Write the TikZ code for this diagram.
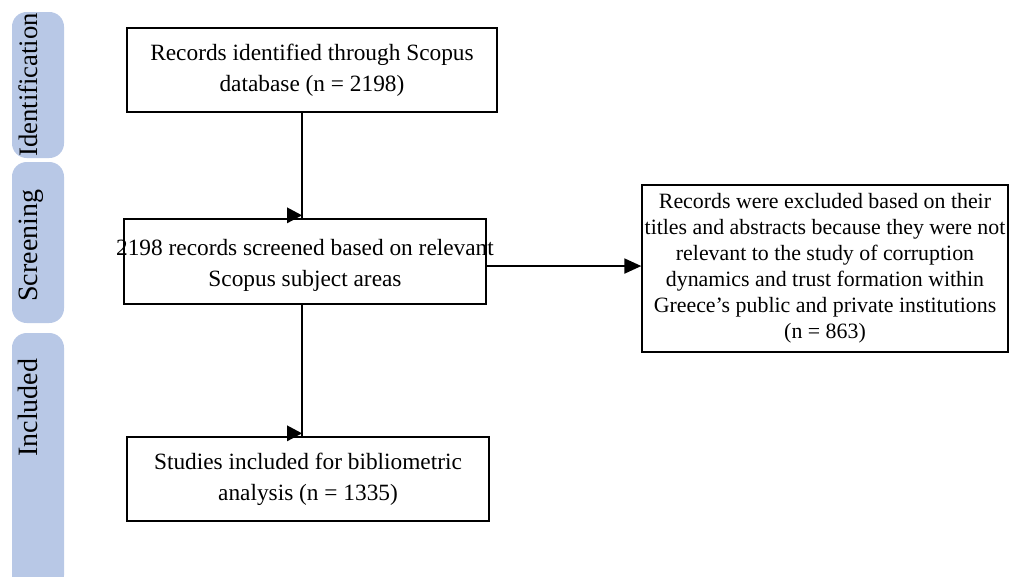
\documentclass[tikz,border=0pt]{standalone}
\usepackage{fontspec}
\setmainfont{Liberation Serif}
\usetikzlibrary{arrows.meta}
\definecolor{barblue}{HTML}{B8C8E6}
\begin{document}
\begin{tikzpicture}[x=0.75pt,y=-0.75pt,
  box/.style={draw=black, line width=1pt, rectangle, inner sep=0pt, align=center,
    font=\fontsize{17.5}{23.25}\selectfont},
  smallbox/.style={box, font=\fontsize{16.4}{19.5}\selectfont},
  bartxt/.style={rotate=90, anchor=base west, inner sep=0pt,
    font=\fontsize{21}{25}\selectfont},
  bar/.style={fill=barblue, draw=none, rounded corners=11pt, inner sep=0pt, rectangle},
  conn/.style={line width=1.5pt, draw=black},
  tip/.style={fill=black}]
\useasboundingbox (0,0) rectangle (1009,576);
% stage bars
\node[bar, minimum width=39pt, minimum height=109.5pt] (idbar) at (38,85) {};
\node[bar, minimum width=39pt, minimum height=120.75pt] (scbar) at (38,242.5) {};
\node[bar, minimum width=39pt, minimum height=192.75pt] (inbar) at (38,461.5) {};
\node[bartxt, font=\fontsize{20}{24}\selectfont] (idtxt) at (37,157) {Identification};
\node[bartxt] (sctxt) at (37,302) {Screening};
\node[bartxt] (intxt) at (37,457) {Included};
% boxes
\node[box, minimum width=277.5pt, minimum height=63pt] (b1) at (312,70)
  {Records identified through Scopus\\database (n = 2198)};
\node[box, minimum width=271.5pt, minimum height=63.75pt,
  label={[box, draw=none, yshift=-3pt]center:{2198 records screened based on relevant\\Scopus subject areas}}] (b2) at (305,261.5) {};
\node[smallbox, minimum width=274.5pt, minimum height=125.25pt] (b3) at (825,268.5)
  {Records were excluded based on their\\titles and abstracts because they were not\\relevant to the study of corruption\\dynamics and trust formation within\\Greece’s public and private institutions\\(n = 863)};
\node[box, minimum width=271.5pt, minimum height=63pt] (b4) at (308,479)
  {Studies included for bibliometric\\analysis (n = 1335)};
% connectors
\coordinate (vx) at (302,0);
\draw[conn] (b1.south -| vx) -- (b2.north -| vx);
\fill[tip] (b2.north -| vx) ++(0,-3) -- ++(-15,-8) -- ++(0,16) -- cycle;
\draw[conn] (b2.south -| vx) -- (b4.north -| vx);
\fill[tip] (b4.north -| vx) ++(0,-3) -- ++(-15,-8) -- ++(0,16) -- cycle;
\coordinate (h1) at ([yshift=-3.4pt]b2.east);
\draw[conn, -{Triangle[length=12.75pt,width=11.25pt]}] (h1) -- (h1 -| b3.west);
\end{tikzpicture}
\end{document}
